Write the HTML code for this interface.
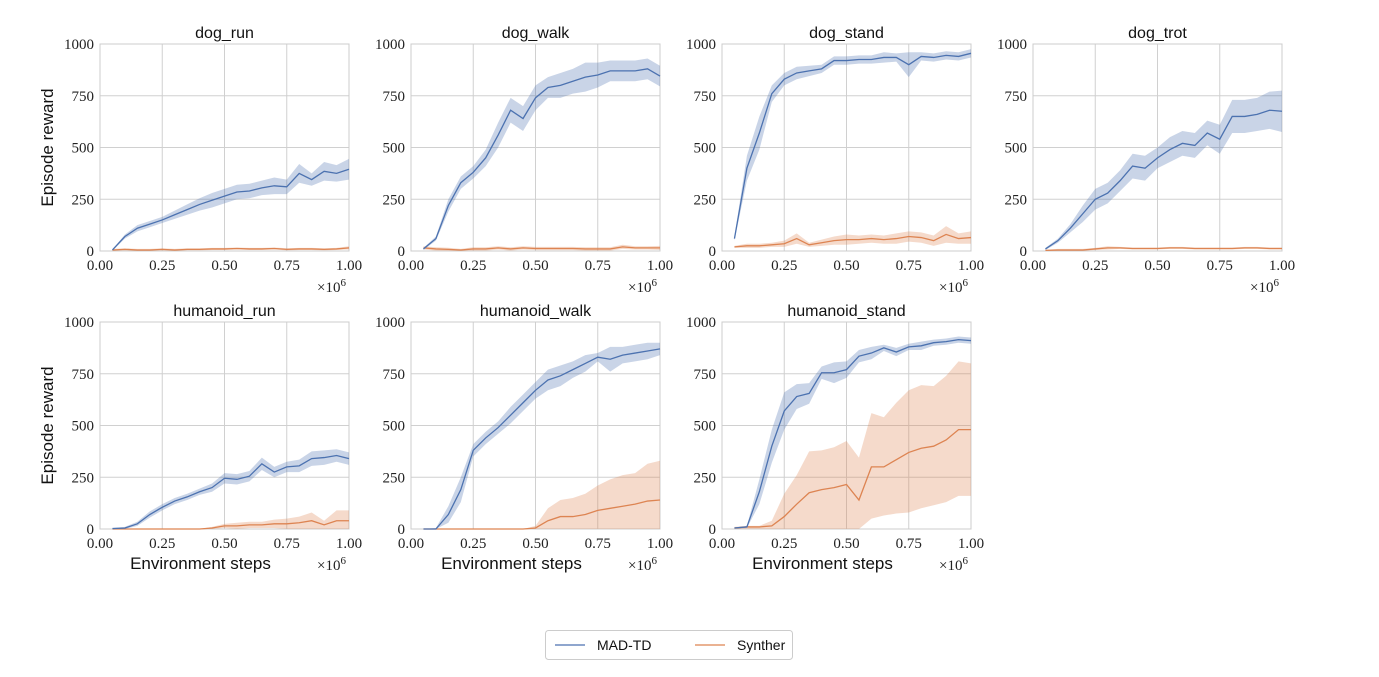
<!DOCTYPE html>
<html><head><meta charset="utf-8"><style>
body{margin:0;background:#fff;}
svg text{font-family:"Liberation Serif",serif;}
.t{font-family:"Liberation Sans","DejaVu Sans",sans-serif;}
</style></head><body>
<svg id="c" width="1379" height="672" xmlns="http://www.w3.org/2000/svg"></svg>
<script>
const steps=[0.05,0.1,0.15,0.2,0.25,0.3,0.35,0.4,0.45,0.5,0.55,0.6,0.65,0.7,0.75,0.8,0.85,0.9,0.95,1.0];
const yTicks=[0,250,500,750,1000];
const xTicks=[0,0.25,0.5,0.75,1.0];
const xTickLabels=["0.00","0.25","0.50","0.75","1.00"];
const titles=["dog_run","dog_walk","dog_stand","dog_trot","humanoid_run","humanoid_walk","humanoid_stand"];
const madMean=[
[5,70,110,130,150,175,200,225,245,265,285,290,305,315,310,375,345,385,375,395],
[10,60,220,330,380,450,560,680,640,740,790,800,820,840,850,870,870,870,880,845],
[60,400,570,760,830,860,870,880,920,920,925,925,935,935,900,940,935,945,940,955],
[10,50,110,180,250,280,340,410,400,450,490,520,510,570,540,650,650,660,680,675],
[2,5,25,70,105,135,155,180,200,245,240,255,315,275,300,305,340,345,355,340],
[0,0,70,190,380,440,490,550,610,670,720,740,770,800,830,820,840,850,860,870],
[5,10,180,400,570,640,655,755,755,770,835,850,875,855,880,885,900,905,915,910]];
const madSpread=[
[3,10,15,15,15,20,25,30,35,35,35,35,35,40,35,45,30,45,40,50],
[5,10,30,30,30,40,60,60,60,60,50,60,60,70,60,50,50,50,50,50],
[10,60,80,40,30,30,25,20,20,20,20,20,25,20,60,20,20,20,20,20],
[5,10,20,40,50,50,50,60,60,50,60,60,60,60,70,80,80,80,90,100],
[2,5,10,15,15,15,15,15,20,25,25,25,30,25,25,30,35,35,30,30],
[0,5,40,60,30,30,30,40,40,40,50,50,40,40,20,60,40,40,40,30],
[3,5,60,80,90,60,50,30,50,40,30,30,15,20,15,20,15,15,15,15]];
const synMean=[
[5,8,5,5,8,5,8,8,10,10,12,10,10,12,8,10,10,8,10,15],
[15,10,8,5,10,10,15,10,15,12,12,12,12,10,10,10,20,15,15,15],
[20,25,25,30,35,60,30,40,50,55,55,60,55,60,70,65,50,80,60,65],
[3,5,5,5,10,15,15,12,12,12,15,15,12,12,12,12,15,15,12,12],
[0,0,0,0,0,0,0,0,5,15,15,20,20,25,25,30,40,20,40,40],
[0,0,0,0,0,0,0,0,0,5,40,60,60,70,90,100,110,120,135,140],
[5,10,10,15,60,120,175,190,200,215,140,300,300,335,370,390,400,430,480,480]];
const synSpread=[
[5,5,5,5,5,5,5,5,5,5,5,5,5,5,5,5,5,5,5,8],
[8,8,8,5,8,8,8,8,8,8,8,8,8,8,8,8,10,8,8,10],
[5,10,10,10,15,25,10,15,20,25,20,20,20,25,25,25,25,40,25,30],
[3,5,5,5,5,8,5,5,5,5,5,5,5,5,5,5,5,5,5,5],
[0,0,0,0,0,0,0,0,5,10,15,15,15,20,25,30,40,20,50,50],
[0,0,0,0,0,0,0,0,0,10,60,80,90,100,120,140,150,150,180,190],
null];
const hsSynLo=[0,0,0,0,0,0,0,0,0,0,0,50,65,75,80,100,115,130,160,160];
const hsSynHi=[10,15,15,40,170,260,375,380,395,425,345,560,540,610,670,695,690,740,810,800];

const NS="http://www.w3.org/2000/svg";
const svg=document.getElementById('c');
function mk(tag,attrs,parent,txt){const e=document.createElementNS(NS,tag);for(const k in attrs)e.setAttribute(k,attrs[k]);if(txt!==undefined)e.textContent=txt;(parent||svg).appendChild(e);return e;}
const colX=[100,411,722,1033], rowY=[44,322], W=249, H=207;
titles.forEach((title,i)=>{
  const x0=colX[i%4], y0=rowY[Math.floor(i/4)];
  const xs=v=>x0+v*W, ys=v=>y0+H-v/1000*H;
  const g=mk('g',{});
  
  
  xTicks.forEach((t,k)=>{
    mk('line',{x1:xs(t),x2:xs(t),y1:y0,y2:y0+H,stroke:'#d0d0d0','stroke-width':1},g);
    const tl=mk('text',{x:xs(t),y:y0+H+19,'text-anchor':'middle','font-size':15,fill:'#222'},g,xTickLabels[k]);
    
    
  });
  yTicks.forEach(t=>{
    mk('line',{x1:x0,x2:x0+W,y1:ys(t),y2:ys(t),stroke:'#d0d0d0','stroke-width':1},g);
    const tl=mk('text',{x:x0-6,y:ys(t)+5,'text-anchor':'end','font-size':15,fill:'#222'},g,String(t));
    
    
  });
  mk('rect',{x:x0,y:y0,width:W,height:H,fill:'none',stroke:'#ccc'},g);
  const tt=mk('text',{x:x0+W/2,y:y0-6,'text-anchor':'middle','font-size':16,class:'t',fill:'#111'},g,title);
  
  
  const ex=mk('text',{x:x0+W-32,y:y0+H+41,'font-size':15,fill:'#222'},g);
  ex.innerHTML='×10<tspan dy="-6" font-size="11">6</tspan>';
  
  
  if(i%4===0){
    const yl=mk('text',{transform:`translate(${x0-47},${y0+H/2}) rotate(-90)`,'text-anchor':'middle','font-size':17,class:'t',fill:'#111'},g,'Episode reward');
    
    
  }
  if(i>=4){
    const xl=mk('text',{x:x0+W/2-24,y:y0+H+40,'text-anchor':'middle','font-size':17,class:'t',fill:'#111'},g,'Environment steps');
    
    
  }
  const series=[['syn',synMean[i],'#dd8452'],['mad',madMean[i],'#4c72b0']];
  series.forEach(([nm,mean,col])=>{
    let lo,hi;
    if(nm==='syn'&&i===6){lo=hsSynLo;hi=hsSynHi;}
    else{const sp=nm==='syn'?synSpread[i]:madSpread[i];lo=mean.map((m,k)=>Math.max(0,m-sp[k]));hi=mean.map((m,k)=>Math.min(1000,m+sp[k]));}
    let d='M'+steps.map((s,k)=>xs(s)+','+ys(hi[k])).join('L');
    for(let k=steps.length-1;k>=0;k--)d+='L'+xs(steps[k])+','+ys(lo[k]);
    const band=mk('path',{d:d+'Z',fill:col,'fill-opacity':0.3,stroke:'none'},g);
    
    
    const ln=mk('polyline',{points:steps.map((s,k)=>xs(s)+','+ys(mean[k])).join(' '),fill:'none',stroke:col,'stroke-width':1.3},g);
    
    
  });
});
const lg=mk('g',{});


mk('rect',{x:545.5,y:630.5,width:247,height:29,rx:3,fill:'#fff',stroke:'#ccc'},lg);
mk('line',{x1:555,x2:585,y1:645,y2:645,stroke:'#4c72b0','stroke-width':1.3},lg);
const l1=mk('text',{x:597,y:650,'font-size':14,class:'t',fill:'#111'},lg,'MAD-TD');


mk('line',{x1:695,x2:725,y1:645,y2:645,stroke:'#dd8452','stroke-width':1.3},lg);
const l2=mk('text',{x:737,y:650,'font-size':14,class:'t',fill:'#111'},lg,'Synther');


</script>
</body></html>
